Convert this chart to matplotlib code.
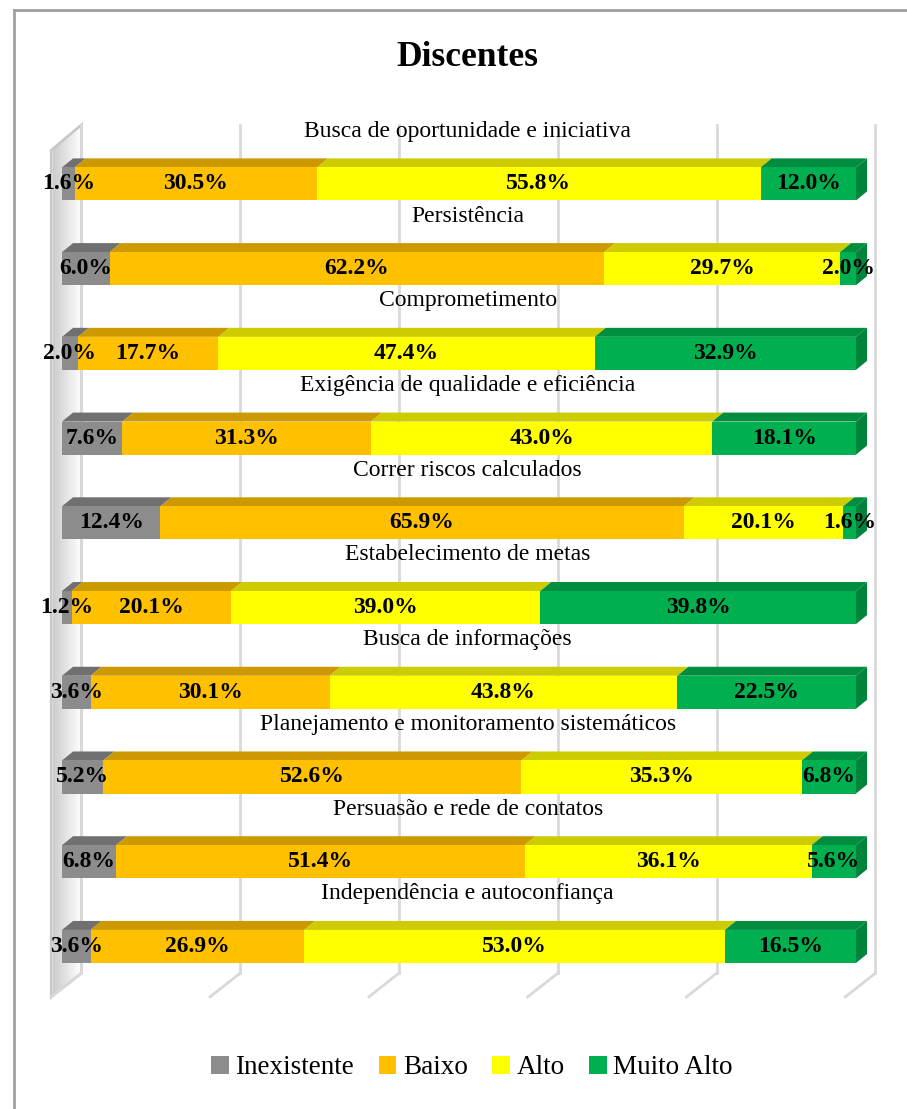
import numpy as np
import matplotlib.pyplot as plt
from matplotlib.patches import Polygon, Patch
from matplotlib.lines import Line2D
from matplotlib.colors import to_rgb

# Survey results per competence (percent of students)
categories = [
    "Busca de oportunidade e iniciativa",
    "Persistência",
    "Comprometimento",
    "Exigência de qualidade e eficiência",
    "Correr riscos calculados",
    "Estabelecimento de metas",
    "Busca de informações",
    "Planejamento e monitoramento sistemáticos",
    "Persuasão e rede de contatos",
    "Independência e autoconfiança",
]
levels = ["Inexistente", "Baixo", "Alto", "Muito Alto"]
inexistente = [1.6, 6.0, 2.0, 7.6, 12.4, 1.2, 3.6, 5.2, 6.8, 3.6]
baixo = [30.5, 62.2, 17.7, 31.3, 65.9, 20.1, 30.1, 52.6, 51.4, 26.9]
alto = [55.8, 29.7, 47.4, 43.0, 20.1, 39.0, 43.8, 35.3, 36.1, 53.0]
muito_alto = [12.0, 2.0, 32.9, 18.1, 1.6, 39.8, 22.5, 6.8, 5.6, 16.5]
gridticks = [0, 20, 40, 60, 80, 100]

colors = ["#8c8c8c", "#ffc000", "#ffff00", "#00b050"]
serif = "Liberation Serif"

def shade(c, f):
    return tuple(v * f for v in to_rgb(c))

raw = np.array([inexistente, baixo, alto, muito_alto]).T
values = raw / raw.sum(axis=1, keepdims=True) * 100  # 100% stacked

fig = plt.figure(figsize=(9.07, 11.09), dpi=100)
ax = fig.add_axes([40 / 907, 1 - 1010 / 1109, 860 / 907, 910 / 1109])
ax.set_xlim(-2.77, 105.54)
ax.set_ylim(9.75, -0.99)
ax.axis("off")

# 3D geometry (in data units)
bar_h = 0.39
ddx, ddy = 1.39, -0.106          # bar depth
wall_x = 2.45                    # back wall offset from bar front
wall_top, wall_bot = -0.697, 9.315
floor_dx, floor_dy = -3.8, 0.28  # back wall -> front edge of floor
grid_c = "#d9d9d9"

# left side wall with soft shading
wx0, wx1 = wall_x + floor_dx, wall_x
wall = Polygon([(wx0, wall_top + 0.3), (wx1, wall_top), (wx1, wall_bot),
                (wx0, wall_bot + floor_dy)], closed=True,
               facecolor="none", edgecolor="#c8c8c8", lw=2, zorder=1)
ax.add_patch(wall)
grad = np.linspace(0.8, 1.0, 64)[None, :]
img = ax.imshow(np.repeat(grad, 2, axis=0), cmap="gray", vmin=0, vmax=1,
                extent=[wx0 + 0.2, wx1, wall_bot + floor_dy, wall_top],
                aspect="auto", zorder=0.5, interpolation="bicubic")
img.set_clip_path(wall)

# back wall gridlines and floor edges
for g in gridticks:
    xb = g + wall_x
    ax.add_line(Line2D([xb, xb], [wall_top, wall_bot], color=grid_c, lw=2, zorder=1))
    ax.add_line(Line2D([xb, xb + floor_dx], [wall_bot, wall_bot + floor_dy],
                       color=grid_c, lw=2, zorder=1))

# stacked 3D bars
for i, row in enumerate(values):
    left = 0.0
    top = i - bar_h / 2
    for j, v in enumerate(row):
        x0, x1 = left, left + v
        c = colors[j]
        ax.add_patch(Polygon([(x0, top), (x1, top), (x1 + ddx, top + ddy),
                              (x0 + ddx, top + ddy)], closed=True,
                             facecolor=shade(c, 0.8), edgecolor="none", zorder=3))
        ax.add_patch(Polygon([(x0, top), (x1, top), (x1, top + bar_h),
                              (x0, top + bar_h)], closed=True,
                             facecolor=c, edgecolor="none", zorder=4))
        left = x1
    # right end side face
    ax.add_patch(Polygon([(left, top), (left + ddx, top + ddy),
                          (left + ddx, top + ddy + bar_h), (left, top + bar_h)],
                         closed=True, facecolor=shade(colors[-1], 0.75),
                         edgecolor="none", zorder=3))
    # value labels
    left = 0.0
    for j, v in enumerate(row):
        ax.text(left + v / 2, i, f"{raw[i, j]:.1f}%", ha="center", va="center",
                fontsize=17, fontweight="bold", family=serif, zorder=6)
        left += v
    ax.text(51.1, i - 0.62, categories[i], ha="center", va="center",
            fontsize=17, family=serif, zorder=6)

fig.text(467 / 907, 1 - 57 / 1109, "Discentes", ha="center", va="center",
         fontsize=25.5, fontweight="bold", family=serif)

handles = [Patch(facecolor=c, edgecolor="none") for c in colors]
fig.legend(handles, levels, loc="center", bbox_to_anchor=(472 / 907, 1 - 1068 / 1109),
           ncol=4, frameon=False, handlelength=0.65, handleheight=0.65,
           handletextpad=0.25, columnspacing=0.9,
           prop={"family": serif, "size": 19.5})

# chart frame (left and top edges)
fig.add_artist(Line2D([14 / 907, 14 / 907], [0, 1 - 10 / 1109], color="#a0a0a0",
                      lw=2, transform=fig.transFigure))
fig.add_artist(Line2D([14 / 907, 1], [1 - 10 / 1109, 1 - 10 / 1109], color="#a0a0a0",
                      lw=2, transform=fig.transFigure))

fig.savefig("out.png", dpi=100, facecolor="white")
